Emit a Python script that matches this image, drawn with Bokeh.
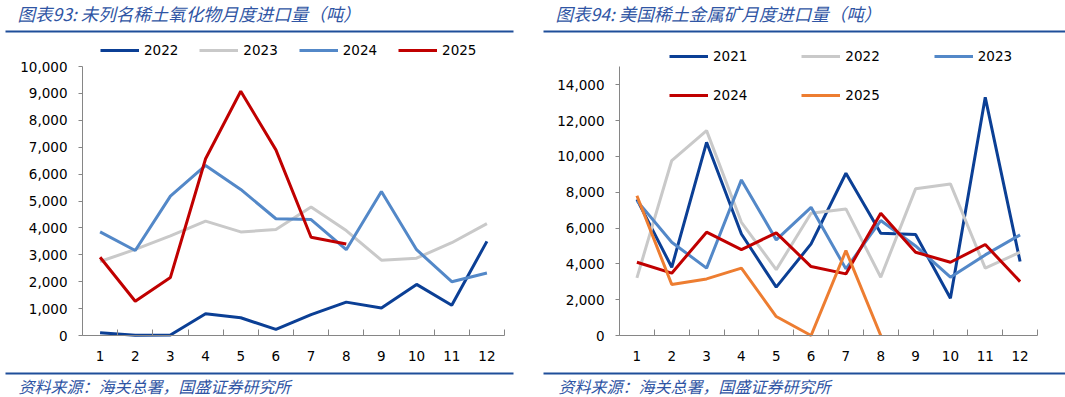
from bokeh.plotting import figure
from bokeh.models import (Range1d, FixedTicker, Legend, LegendItem, NumeralTickFormatter,
                          Label, BoxAnnotation)
from bokeh.layouts import row
from bokeh.embed import file_html
from bokeh.resources import INLINE

# ---------------- data ----------------
months = list(range(1, 13))
month_labels = [str(m) for m in months]

# Chart 93: unlisted rare-earth oxides monthly imports (t)
left_2022 = [100, 10, 20, 810, 660, 225, 775, 1240, 1025, 1900, 1125, 3500]
left_2023 = [2750, 3200, 3700, 4250, 3850, 3940, 4780, 3900, 2800, 2875, 3450, 4160]
left_2024 = [3850, 3160, 5180, 6320, 5430, 4340, 4310, 3190, 5350, 3190, 2000, 2325]
left_2025 = [2910, 1275, 2160, 6570, 9080, 6900, 3650, 3400]

# Chart 94: US rare-earth metal ore monthly imports (t)
right_2021 = [7600, 3810, 10790, 5670, 2700, 5115, 9060, 5710, 5640, 2080, 13300, 4130]
right_2022 = [3220, 9770, 11440, 6320, 3680, 6830, 7070, 3255, 8190, 8465, 3760, 4650]
right_2023 = [7530, 5210, 3760, 8690, 5340, 7160, 3720, 6420, 5000, 3255, 4500, 5620]
right_2024 = [4090, 3480, 5770, 4800, 5730, 3850, 3440, 6830, 4650, 4090, 5080, 3010]
right_2025 = [7800, 2850, 3160, 3760, 1060, 0, 4740, 0]

left_title = "图表93:  未列名稀土氧化物月度进口量（吨）"
right_title = "图表94:  美国稀土金属矿月度进口量（吨）"
source_text = "资料来源：海关总署，国盛证券研究所"

C_DARK = "#0B3F95"
C_GREY = "#C9C9C9"
C_MID = "#5388C8"
C_RED = "#C00000"
C_ORANGE = "#ED7D31"
C_HEAD = "#2F55A4"
C_RULE = "#1F4E9A"
AX = "#868686"
FONT = "DejaVu Sans"
CJK = "Noto Sans CJK SC"

H = 397


def span_range(d0, p0, d1, p1, size, flip=False):
    """Range whose data d0 sits at pixel p0 and d1 at pixel p1 of a canvas of `size` px."""
    if flip:  # pixels counted from the top, data increasing upward
        p0, p1 = size - p0, size - p1
    k = (d1 - d0) / (p1 - p0)
    return Range1d(d0 - p0 * k, d0 + (size - p0) * k)


def make_fig(width, px_left, px_right, py_zero, py_top, y_top_val, ymax, yticks):
    p = figure(width=width, height=H, title=None,
               x_range=span_range(0.5, px_left, 12.5, px_right, width),
               y_range=span_range(0, py_zero, y_top_val, py_top, H, flip=True),
               output_backend="svg", toolbar_location=None, min_border=0)
    p.xgrid.visible = False
    p.ygrid.visible = False
    p.outline_line_color = None

    ya = p.yaxis[0]
    ya.fixed_location = 0.5
    ya.bounds = (0, ymax)
    ya.ticker = FixedTicker(ticks=yticks)
    ya.formatter = NumeralTickFormatter(format="0,0")
    ya.axis_line_color = AX
    ya.major_tick_line_color = AX
    ya.major_tick_in = 0
    ya.major_tick_out = 4
    ya.minor_tick_line_color = None
    ya.major_label_standoff = 11
    ya.major_label_text_font = FONT
    ya.major_label_text_font_size = "13.5px"
    ya.major_label_text_color = "#000000"

    xa = p.xaxis[0]
    xa.fixed_location = 0
    xa.bounds = (0.5, 12.5)
    xa.ticker = FixedTicker(ticks=months, minor_ticks=[m - 0.5 for m in months] + [12.5])
    xa.major_label_overrides = {m: lab for m, lab in zip(months, month_labels)}
    xa.axis_line_color = AX
    xa.major_tick_line_color = None
    xa.major_tick_in = 0
    xa.major_tick_out = 0
    xa.minor_tick_line_color = AX
    xa.minor_tick_in = 6
    xa.minor_tick_out = 0
    xa.major_label_standoff = 15
    xa.major_label_text_font = FONT
    xa.major_label_text_font_size = "13.5px"
    xa.major_label_text_color = "#000000"
    return p


def decorate(p, title, tx, fx, rule_l, rule_r):
    p.add_layout(Label(x=tx, y=13, x_units="canvas", y_units="canvas", text=title,
                       text_font=CJK, text_font_style="italic", text_font_size="17.5px",
                       text_color=C_HEAD, text_baseline="middle"))
    for y0 in (30, 372):
        p.add_layout(BoxAnnotation(left=rule_l, right=rule_r, top=y0, bottom=y0 + 2,
                                   left_units="canvas", right_units="canvas",
                                   top_units="canvas", bottom_units="canvas",
                                   fill_color=C_RULE, fill_alpha=1, line_alpha=0))
    p.add_layout(Label(x=fx, y=385, x_units="canvas", y_units="canvas", text=source_text,
                       text_font=CJK, text_font_style="italic", text_font_size="16px",
                       text_color=C_HEAD, text_baseline="middle"))


def legend(items, loc, spacing):
    return Legend(items=items, orientation="horizontal", location=loc,
                  glyph_width=39, glyph_height=16, label_standoff=5, spacing=spacing,
                  padding=0, margin=0, border_line_alpha=0, background_fill_alpha=0,
                  label_text_font=FONT, label_text_font_size="13.5px",
                  label_text_color="#000000", label_height=16)


# ---------------- left chart ----------------
LW = 532
pl = make_fig(LW, 82, 504, 335, 66, 10000, 10000, list(range(0, 10001, 1000)))
r1 = pl.line(months, left_2022, line_color=C_DARK, line_width=3)
r2 = pl.line(months, left_2023, line_color=C_GREY, line_width=3)
r3 = pl.line(months, left_2024, line_color=C_MID, line_width=3)
r4 = pl.line(months[:len(left_2025)], left_2025, line_color=C_RED, line_width=3)
pl.add_layout(legend([LegendItem(label="2022", renderers=[r1]),
                      LegendItem(label="2023", renderers=[r2]),
                      LegendItem(label="2024", renderers=[r3]),
                      LegendItem(label="2025", renderers=[r4])], (100, H - 58), 21))
decorate(pl, left_title, 17, 18, 5, 513)

# ---------------- right chart ----------------
RW = 533
pr = make_fig(RW, 87, 505, 335, 84.3, 14000, 15000, list(range(0, 14001, 2000)))
s1 = pr.line(months, right_2021, line_color=C_DARK, line_width=3)
s2 = pr.line(months, right_2022, line_color=C_GREY, line_width=3)
s3 = pr.line(months, right_2023, line_color=C_MID, line_width=3)
s4 = pr.line(months, right_2024, line_color=C_RED, line_width=3)
s5 = pr.line(months[:len(right_2025)], right_2025, line_color=C_ORANGE, line_width=3)
pr.add_layout(legend([LegendItem(label="2021", renderers=[s1]),
                      LegendItem(label="2022", renderers=[s2]),
                      LegendItem(label="2023", renderers=[s3])], (137, H - 64), 54))
pr.add_layout(legend([LegendItem(label="2024", renderers=[s4]),
                      LegendItem(label="2025", renderers=[s5])], (137, H - 103), 54))
decorate(pr, right_title, 23, 26, 11, 533)

layout = row(pl, pr)
open("out.html", "w").write(file_html(layout, INLINE))
